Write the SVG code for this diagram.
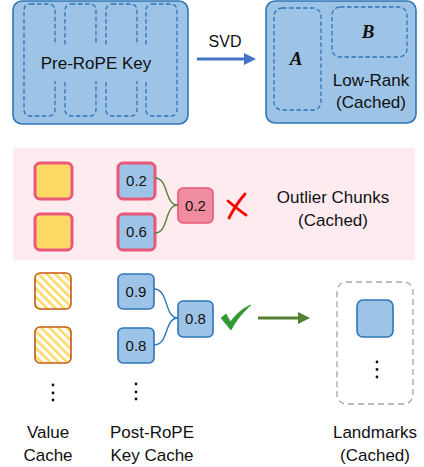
<svg xmlns="http://www.w3.org/2000/svg" width="424" height="467" viewBox="0 0 424 467">
<style>
text{font-family:"Liberation Sans",Arial,sans-serif;fill:#111}
.lbl{font-size:17px}
.num{font-size:15px}
.mat{font-family:"Liberation Serif","Times New Roman",serif;font-weight:bold;font-style:italic;font-size:19px}
.big{fill:#9dc3e6;stroke:#2e75b6;stroke-width:1.6}
.dash{fill:none;stroke:#2e75b6;stroke-width:1.3;stroke-dasharray:4.5 2.5}
.chunk{fill:#9dc3e6;stroke:#2e75b6;stroke-width:1.6}
.pchunk{fill:#9dc3e6;stroke:#e8587a;stroke-width:3}
.ychunk{fill:#ffd966;stroke:#e8587a;stroke-width:3}
.hchunk{fill:url(#hatch);stroke:#c55a11;stroke-width:1.6}
.dot{fill:#111}
</style>
<defs>
<pattern id="hatch" patternUnits="userSpaceOnUse" width="6" height="6" patternTransform="rotate(-45)">
<rect x="0" y="0" width="6" height="6" fill="#ffffff"/>
<rect x="0" y="0" width="2.6" height="6" fill="#ffd966"/>
</pattern>
<marker id="ab" markerWidth="4" markerHeight="4" refX="2" refY="2" orient="auto" markerUnits="strokeWidth">
<path d="M0,0 L4,2 L0,4 z" fill="#4472c4"/>
</marker>
<marker id="ag" markerWidth="4" markerHeight="4" refX="2" refY="2" orient="auto" markerUnits="strokeWidth">
<path d="M0,0 L4,2 L0,4 z" fill="#548235"/>
</marker>
</defs>

<rect id="band" x="13" y="148" width="402" height="112" fill="#fdebef"/>

<g id="prerope">
<rect class="big" x="13" y="1" width="175" height="123" rx="9"/>
<rect class="dash" x="24" y="4" width="31" height="112" rx="6"/>
<rect class="dash" x="65" y="4" width="31" height="112" rx="6"/>
<rect class="dash" x="106" y="4" width="31" height="112" rx="6"/>
<rect class="dash" x="146" y="4" width="31" height="112" rx="6"/>
<rect x="30" y="45" width="141" height="36" fill="#9dc3e6"/>
<text class="lbl" x="96" y="69" text-anchor="middle">Pre-RoPE Key</text>
</g>

<g id="svd">
<text class="lbl" x="225" y="47" text-anchor="middle" style="font-size:16px">SVD</text>
</g>

<g id="lowrank">
<rect class="big" x="266" y="1" width="150" height="122" rx="9"/>
<rect class="dash" x="274" y="8" width="47" height="102" rx="8"/>
<rect class="dash" x="332" y="7" width="75" height="50" rx="8"/>
<text class="mat" x="296" y="65" text-anchor="middle">A</text>
<text class="mat" x="368" y="38" text-anchor="middle">B</text>
<text class="lbl" x="371" y="86" text-anchor="middle">Low-Rank</text>
<text class="lbl" x="371" y="108" text-anchor="middle">(Cached)</text>
</g>

<g id="v1"><rect class="ychunk" x="35" y="163" width="37" height="36" rx="5"/></g>
<g id="v2"><rect class="ychunk" x="35" y="214" width="37" height="36" rx="5"/></g>
<g id="k1"><rect class="pchunk" x="118" y="163" width="37" height="36" rx="5"/><text class="num" x="136.5" y="186" text-anchor="middle">0.2</text></g>
<g id="k2"><rect class="pchunk" x="118" y="214" width="37" height="36" rx="5"/><text class="num" x="136.5" y="237" text-anchor="middle">0.6</text></g>
<g id="outmax"><rect x="178" y="188" width="35" height="35" rx="5" fill="#f08ca0" stroke="#e8587a" stroke-width="1.6"/><text class="num" x="195.5" y="211" text-anchor="middle">0.2</text></g>
<g id="cross"><path d="M245,194 C238,202 233,210 229,218 M228,201 C234,206 240,211 246,215" fill="none" stroke="#ff0000" stroke-width="2.8" stroke-linecap="round"/></g>
<g id="outlier">
<text class="lbl" x="333" y="203" text-anchor="middle">Outlier Chunks</text>
<text class="lbl" x="333" y="226" text-anchor="middle">(Cached)</text>
</g>

<g id="v3"><rect class="hchunk" x="35" y="273" width="36" height="36" rx="5"/></g>
<g id="v4"><rect class="hchunk" x="35" y="327" width="36" height="36" rx="5"/></g>
<g id="k3"><rect class="chunk" x="118" y="274" width="36" height="35" rx="5"/><text class="num" x="136" y="297" text-anchor="middle">0.9</text></g>
<g id="k4"><rect class="chunk" x="118" y="328" width="36" height="35" rx="5"/><text class="num" x="136" y="351" text-anchor="middle">0.8</text></g>
<g id="keepmax"><rect class="chunk" x="178" y="301" width="35" height="36" rx="5"/><text class="num" x="195.5" y="324" text-anchor="middle">0.8</text></g>
<g id="check"><path d="M221,318 L226,314 L230.5,322 C236,314 243,308 251,305 C244,311 237,319 231,330 Z" fill="#339933" stroke="#339933" stroke-width="0.8" stroke-linejoin="round"/></g>

<g id="landmarks">
<rect x="337" y="282" width="76" height="122" rx="9" fill="none" stroke="#a6a6a6" stroke-width="1.3" stroke-dasharray="6 4"/>
<rect class="chunk" x="357" y="300" width="36" height="37" rx="6"/>
<circle class="dot" cx="377" cy="362" r="1.4"/><circle class="dot" cx="377" cy="369.5" r="1.4"/><circle class="dot" cx="377" cy="377" r="1.4"/>
</g>

<g id="vdots"><circle class="dot" cx="53" cy="385" r="1.4"/><circle class="dot" cx="53" cy="393" r="1.4"/><circle class="dot" cx="53" cy="400" r="1.4"/></g>
<g id="kdots"><circle class="dot" cx="136" cy="384" r="1.4"/><circle class="dot" cx="136" cy="392" r="1.4"/><circle class="dot" cx="136" cy="399" r="1.4"/></g>

<g id="labels">
<text class="lbl" x="48" y="438" text-anchor="middle">Value</text>
<text class="lbl" x="48" y="461" text-anchor="middle">Cache</text>
<text class="lbl" x="152" y="438" text-anchor="middle">Post-RoPE</text>
<text class="lbl" x="152" y="461" text-anchor="middle">Key Cache</text>
<text class="lbl" x="375" y="438" text-anchor="middle">Landmarks</text>
<text class="lbl" x="375" y="461" text-anchor="middle">(Cached)</text>
</g>

<g id="connectors" fill="none">
<path d="M197,59 L250,59" stroke="#4472c4" stroke-width="3" marker-end="url(#ab)"/>
<path d="M258,318 L304,318" stroke="#548235" stroke-width="3" marker-end="url(#ag)"/>
<path d="M155,178 C169,178 164,205 178,205" stroke="#548235" stroke-width="1.4"/>
<path d="M155,233 C169,233 164,205 178,205" stroke="#548235" stroke-width="1.4"/>
<path d="M154,289 C169,289 164,318 178,318" stroke="#2e75b6" stroke-width="1.4"/>
<path d="M154,345 C169,345 164,318 178,318" stroke="#2e75b6" stroke-width="1.4"/>
</g>
</svg>
